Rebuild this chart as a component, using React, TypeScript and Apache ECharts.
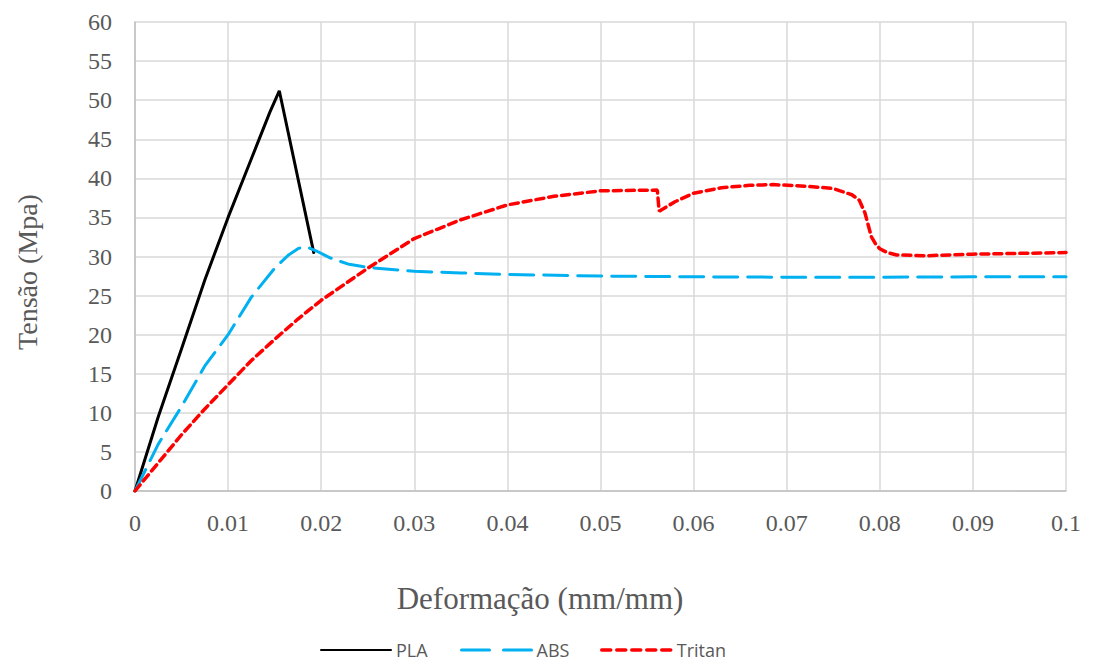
import React, { useEffect, useRef } from "react";
import * as echarts from "echarts";

const xTicks = [0, 0.01, 0.02, 0.03, 0.04, 0.05, 0.06, 0.07, 0.08, 0.09, 0.1];

const plaStrain = [0, 0.0025, 0.005, 0.0075, 0.01, 0.0125, 0.0145, 0.0155, 0.0192];
const plaStress = [0, 9.5, 18.2, 27, 35, 42.5, 48.5, 51.2, 30.5];

const absStrain = [0, 0.0025, 0.005, 0.0075, 0.01, 0.0125, 0.015, 0.0165, 0.0175, 0.018, 0.0187, 0.0195, 0.021, 0.023, 0.025, 0.03, 0.035, 0.04, 0.05, 0.06, 0.07, 0.08, 0.09, 0.1];
const absStress = [0, 6, 10.8, 16, 20, 24.8, 28.5, 30.2, 31.0, 31.2, 31.1, 30.7, 29.8, 29, 28.6, 28.1, 27.9, 27.7, 27.5, 27.4, 27.35, 27.35, 27.4, 27.4];

const tritanStrain = [0, 0.0025, 0.005, 0.0075, 0.01, 0.0125, 0.015, 0.0175, 0.02, 0.025, 0.03, 0.035, 0.04, 0.045, 0.05, 0.0561, 0.0563, 0.058, 0.06, 0.063, 0.066, 0.0685, 0.072, 0.075, 0.077, 0.0778, 0.0784, 0.0791, 0.0796, 0.08, 0.0808, 0.0818, 0.085, 0.09, 0.095, 0.1];
const tritanStress = [0, 3.6, 7.2, 10.5, 13.6, 16.7, 19.4, 22, 24.4, 28.5, 32.3, 34.7, 36.6, 37.7, 38.4, 38.5, 35.8, 37.0, 38.1, 38.8, 39.1, 39.2, 39.0, 38.7, 37.9, 37.2, 35.6, 32.5, 31.5, 31.0, 30.5, 30.2, 30.1, 30.3, 30.4, 30.5];

const zip = (xs: number[], ys: number[]) => xs.map((x, i) => [x, ys[i]]);

export default function App() {
  const ref = useRef<HTMLDivElement>(null);
  useEffect(() => {
    if (!ref.current) return;
    const chart = echarts.init(ref.current, null, { renderer: "svg" });
    const serif = "Liberation Serif";
    const legendCommon = {
      top: 641,
      padding: 0,
      itemWidth: 70,
      itemHeight: 14,
      itemGap: 8,
      itemStyle: { color: "transparent", borderWidth: 0 },
      textStyle: { color: "#595959", fontFamily: "Open Sans", fontSize: 18, lineHeight: 18 },
    };
    chart.setOption({
      animation: false,
      backgroundColor: "#ffffff",
      textStyle: { fontFamily: serif },
      grid: { left: 135, right: 27, top: 22, bottom: 173, containLabel: false },
      xAxis: {
        type: "value",
        min: 0,
        max: 0.1,
        interval: 0.01,
        axisLine: { show: true, lineStyle: { color: "#bfbfbf", width: 1.5 } },
        axisTick: { show: false },
        splitLine: { show: true, lineStyle: { color: "#d9d9d9", width: 1.5 } },
        axisLabel: {
          color: "#595959",
          fontFamily: serif,
          fontSize: 24,
          margin: 20,
          formatter: (v: number) => String(parseFloat(v.toFixed(2))),
        },
      },
      yAxis: {
        type: "value",
        min: 0,
        max: 60,
        interval: 5,
        axisLine: { show: true, lineStyle: { color: "#bfbfbf", width: 1.5 } },
        axisTick: { show: false },
        splitLine: { show: true, lineStyle: { color: "#d9d9d9", width: 1.5 } },
        axisLabel: { color: "#595959", fontFamily: serif, fontSize: 24, margin: 23 },
      },
      legend: [
        { ...legendCommon, left: 320, data: ["PLA"] },
        { ...legendCommon, left: 460, data: ["ABS"], lineStyle: { type: [28, 14], width: 3 } },
        { ...legendCommon, left: 600, data: ["Tritan"], lineStyle: { type: [9, 6], width: 3.5 } },
      ],
      graphic: [
        {
          type: "text",
          x: 540,
          y: 598,
          style: {
            text: "Deformação (mm/mm)",
            fill: "#595959",
            font: "31px Liberation Serif",
            align: "center",
            verticalAlign: "middle",
          },
        },
        {
          type: "text",
          x: 27,
          y: 272,
          rotation: Math.PI / 2,
          style: {
            text: "Tensão (Mpa)",
            fill: "#595959",
            font: "28px Liberation Serif",
            align: "center",
            verticalAlign: "middle",
          },
        },
      ],
      series: [
        {
          name: "PLA",
          type: "line",
          symbol: "none",
          data: zip(plaStrain, plaStress),
          color: "#000000",
          lineStyle: { color: "#000000", width: 3, cap: "round" },
        },
        {
          name: "ABS",
          type: "line",
          symbol: "none",
          data: zip(absStrain, absStress),
          color: "#00b0f0",
          lineStyle: { color: "#00b0f0", width: 3, type: [24, 10], cap: "round" },
        },
        {
          name: "Tritan",
          type: "line",
          symbol: "none",
          data: zip(tritanStrain, tritanStress),
          color: "#ff0000",
          lineStyle: { color: "#ff0000", width: 3.5, type: [8, 5], cap: "round" },
        },
      ],
    });
    return () => chart.dispose();
  }, []);
  return <div ref={ref} style={{ width: 1093, height: 664, position: "absolute", left: 0, top: 0 }} />;
}
